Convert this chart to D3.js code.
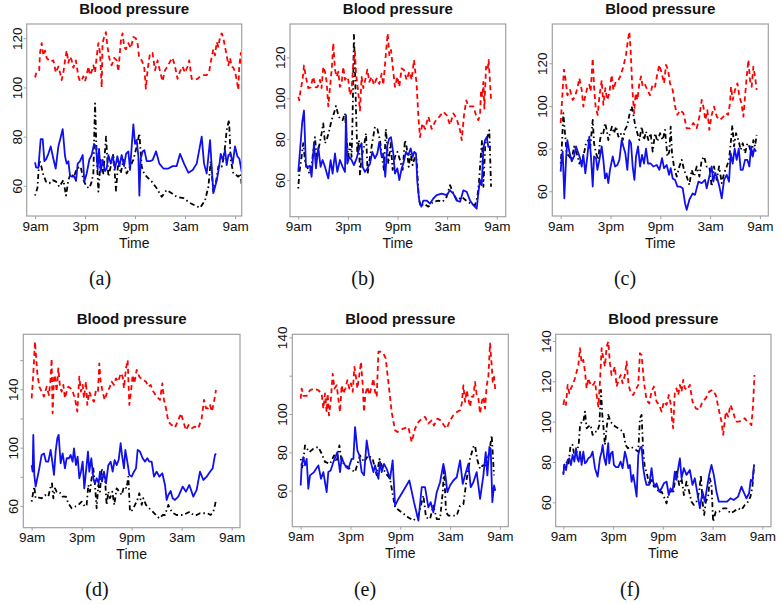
<!DOCTYPE html>
<html><head><meta charset="utf-8">
<script src="https://cdn.jsdelivr.net/npm/d3@7"></script>
<style>body{margin:0;background:#fff}svg{display:block}</style>
</head><body>
<svg id="chart" width="781" height="604"></svg>
<script>
// ---- labels ----
const titleText = "Blood pressure";
const xTitle = "Time";
const hourTicks = [0, 6, 12, 18, 24];
const hourLabels = ["9am", "3pm", "9pm", "3am", "9am"];
const panelTags = ["(a)", "(b)", "(c)", "(d)", "(e)", "(f)"];

// ---- data: [hours after 9am, value] ----
const aRed = [[0,104],[0.2,106.5],[0.5,107],[0.6,114],[0.8,118],[1.0,113],[1.2,115],[1.4,112],[1.8,110.5],[2.2,111],[2.5,106],[2.8,108.5],[3.0,106],[3.2,103],[3.4,106],[3.6,111],[3.8,115],[4.0,110],[4.2,112.5],[4.4,111],[4.6,108],[4.9,111],[5.2,104.5],[5.4,102.5],[5.6,103],[5.8,104.5],[6.0,102.5],[6.2,105],[6.4,108.5],[6.6,105],[6.8,106.5],[7.0,109],[7.2,106],[7.4,112.5],[7.6,118],[7.8,114],[8.0,100],[8.1,118],[8.3,120.5],[8.5,122.5],[8.7,116.5],[8.9,112],[9.2,109],[9.5,112],[9.8,111],[10.0,106.5],[10.3,119],[10.5,122],[10.7,116.5],[10.9,115.5],[11.2,118],[11.5,116],[11.8,120.5],[12.1,120],[12.3,118],[12.5,112],[12.8,111],[13.1,108.5],[13.3,99.5],[13.5,107],[13.8,114],[14.1,114],[14.4,107],[14.7,111],[15.0,106.5],[15.3,102.5],[15.6,107],[15.9,108.5],[16.2,110.5],[16.5,112],[16.8,108.5],[17.1,103.5],[17.4,106.5],[17.7,108.5],[18.0,106],[18.3,108.5],[18.5,111],[18.8,103.5],[19.1,103],[19.5,103.5],[19.8,104.5],[20.2,105],[20.6,105],[20.9,106.5],[21.2,112.5],[21.4,115.5],[21.6,113],[21.8,118.5],[22.0,116.5],[22.2,120.5],[22.4,122],[22.6,120],[22.8,116.5],[23.0,113],[23.2,109],[23.4,112],[23.6,108.5],[23.8,108],[24.0,106.5],[24.2,103],[24.4,99],[24.5,108.5],[24.7,114],[24.8,109]];
const aBlue = [[0,69.5],[0.12,67.5],[0.4,67.3],[0.68,79],[0.92,79],[1.12,70],[1.32,70.7],[1.6,73],[1.88,76],[2.2,71],[2.48,67],[2.8,76],[3.32,83],[3.6,72],[3.8,69],[4.0,70],[4.2,64],[4.48,63.7],[4.68,64],[4.92,62],[5.12,69],[5.4,70],[5.72,72.5],[5.92,61.7],[6.2,65],[6.52,70.7],[6.8,72.5],[7.08,77],[7.32,76],[7.52,66.7],[7.68,75],[7.88,65.7],[8.12,70.5],[8.4,66],[8.6,67],[8.8,72.5],[9.08,69],[9.32,72],[9.6,67],[9.88,72],[10.12,68],[10.4,72.5],[10.68,68],[10.92,73],[11.2,74],[11.4,66.4],[11.6,76],[11.8,85],[12.0,77],[12.2,78.6],[12.4,72],[12.52,56],[12.68,71],[12.92,74],[13.12,74.5],[13.4,70],[13.8,70],[14.12,70.5],[14.52,74],[14.92,69],[15.4,67],[16.0,67],[16.52,68],[17.0,68],[17.4,73],[17.88,69],[18.4,65.3],[18.92,66.4],[19.4,69],[20.0,80],[20.28,69],[20.6,65],[21.0,78.6],[21.4,57],[21.8,62],[22.12,68.4],[22.28,73],[22.52,70.5],[22.8,74.5],[23.0,68.4],[23.2,72.5],[23.48,73],[23.72,69],[24.0,76],[24.28,72],[24.52,71],[24.68,68],[24.8,65.7]];
const aBlack = [[0,56],[0.28,59],[0.52,70.5],[0.76,67.8],[1.0,64.4],[1.32,61.7],[1.72,61],[2.12,62.3],[2.52,61.7],[2.92,59.6],[3.4,62.3],[3.72,56],[4.0,62.3],[4.28,65],[4.68,63.7],[5.0,67],[5.48,67.8],[5.8,62.3],[6.2,59.6],[6.52,59],[6.8,61.7],[7.0,65],[7.2,93.5],[7.4,72],[7.6,57.6],[7.88,70.5],[8.2,65],[8.52,80],[8.8,63.7],[9.08,67.8],[9.4,73],[9.72,58],[10.0,70.5],[10.28,65],[10.6,70.5],[11.0,65],[11.4,67.8],[11.8,70.5],[12.2,76],[12.52,81.3],[12.8,67.8],[13.08,65],[13.4,63.7],[14.0,61.7],[14.6,59],[15.2,55.5],[15.8,58.3],[16.4,57],[17.0,55.5],[17.8,55],[18.6,53],[19.2,52],[19.8,51],[20.4,54],[20.8,59.6],[21.08,70],[21.4,57.6],[21.72,61.7],[22.0,67.8],[22.2,68.5],[22.4,67.8],[22.68,72],[23.0,82.7],[23.28,86.8],[23.48,70.5],[23.8,65],[24.12,64.4],[24.4,63.7],[24.68,65],[24.8,60.3]];

const bRed = [[0,100.7],[0.12,99],[0.28,104],[0.52,109],[0.69,116],[0.89,111],[1.21,105],[1.49,105.3],[1.81,110.5],[2.1,105.3],[2.34,105.6],[2.62,109],[2.82,105],[3.02,115.4],[3.23,113],[3.43,108],[3.63,96],[3.83,105],[4.07,115.4],[4.23,127],[4.44,114],[4.64,110.5],[4.84,113],[5.04,105.6],[5.24,107],[5.44,115.4],[5.65,109],[5.85,110.5],[6.05,109],[6.25,101.6],[6.45,104],[6.65,117],[6.85,122.8],[6.98,112],[7.14,107],[7.3,100.7],[7.46,94],[7.66,110.5],[7.86,105],[8.1,109],[8.35,114],[8.59,108],[8.87,110.5],[9.15,106.5],[9.48,109.7],[9.8,107],[10.08,112],[10.28,106.5],[10.6,122],[10.81,131.7],[11.01,121],[11.21,123.6],[11.41,116],[11.69,105.6],[11.98,110.5],[12.22,105.6],[12.5,114.6],[12.78,113.8],[13.1,109],[13.43,113],[13.71,109],[13.99,118.7],[14.31,107],[14.52,91],[14.72,81],[15.0,87.7],[15.32,85],[15.73,91],[16.13,85],[16.53,88.5],[17.06,91],[17.54,93.4],[17.94,91.8],[18.35,87],[18.75,92.6],[19.15,90],[19.56,84.4],[19.76,79.5],[20.04,91.8],[20.32,99],[20.56,96],[20.85,96],[21.17,96],[21.49,91.8],[21.77,89.3],[21.98,91.8],[22.1,104],[22.26,100.7],[22.38,108],[22.5,95],[22.7,115.4],[22.9,113.8],[23.02,118.7],[23.19,107],[23.31,99]];
const bBlue = [[0,64],[0.12,69.8],[0.28,78],[0.48,88.5],[0.69,94],[0.93,66.5],[1.21,66.5],[1.41,67],[1.61,61.6],[1.9,78],[2.14,65.7],[2.42,76],[2.7,66.5],[2.94,69.8],[3.23,66.5],[3.63,60.8],[3.91,69.8],[4.15,63.2],[4.44,73],[4.72,64],[5.04,69.8],[5.36,66.5],[5.65,64],[5.77,91.8],[5.93,68],[6.17,71.4],[6.45,69.8],[6.73,67.3],[7.06,70.6],[7.3,74.6],[7.46,76.3],[7.66,78],[7.78,66.5],[8.06,64],[8.35,65.7],[8.67,68],[8.95,73.8],[9.27,70.6],[9.56,73],[9.8,78.7],[10.08,71.4],[10.28,73],[10.52,61.6],[10.77,77],[11.01,80.4],[11.21,81],[11.49,73],[11.69,63.2],[11.98,65.7],[12.22,60],[12.5,65.7],[12.7,68],[13.02,73.8],[13.31,72.2],[13.59,75.5],[13.83,71.4],[14.03,73.8],[14.23,73],[14.4,59],[14.64,49.4],[14.88,47],[15.12,50],[15.52,50],[15.93,48.5],[16.33,51],[16.73,52.6],[17.34,53.4],[17.94,52.6],[18.35,55],[18.75,53.4],[19.15,50],[19.56,49.4],[19.96,55],[20.36,54.3],[20.77,50],[21.17,47.7],[21.57,46],[21.81,55],[21.98,60],[22.18,57.5],[22.38,75.5],[22.58,79.5],[22.78,81],[22.98,76.3],[23.31,76.3]];
const bBlack = [[0,55.9],[0.12,63.2],[0.4,71.4],[0.6,78],[0.85,68],[1.09,66.5],[1.33,63.2],[1.61,66.5],[1.81,74.6],[2.02,81],[2.22,71.4],[2.54,77],[2.82,82.8],[3.02,87.7],[3.23,78],[3.43,79.5],[3.75,84.4],[4.03,89.3],[4.31,92.6],[4.56,96.2],[4.84,91.8],[5.04,90],[5.36,89.3],[5.65,92.6],[5.85,79.5],[6.05,71.4],[6.25,78],[6.45,71.4],[6.57,91],[6.73,131],[6.85,115.4],[6.98,94],[7.14,73],[7.34,79.5],[7.46,62.4],[7.66,71.4],[7.94,76.3],[8.19,82.8],[8.39,63.2],[8.67,71.4],[8.99,79.5],[9.27,86],[9.56,85],[9.88,79.5],[10.12,71.4],[10.36,65],[10.6,85],[10.89,68],[11.17,78],[11.41,65],[11.69,71.4],[11.98,73.8],[12.3,69.8],[12.62,65],[12.9,79.5],[13.1,76.3],[13.35,66.5],[13.59,73],[13.83,67.3],[14.11,71.4],[14.31,69.8],[14.56,51.8],[14.8,47],[15.2,48.5],[15.73,47],[16.33,49.4],[16.94,50],[17.46,49.4],[17.94,51.8],[18.35,57.5],[18.75,53.4],[19.23,50],[19.76,51.8],[20.28,50],[20.85,48.5],[21.37,47.7],[21.65,51.8],[21.85,59],[22.06,71.4],[22.22,79.5],[22.38,56.7],[22.62,78],[22.86,81],[23.1,84.4],[23.31,56.7]];

const cRed = [[0,92],[0.12,99.7],[0.24,107.5],[0.4,117],[0.6,112],[0.8,105],[1.12,107.5],[1.45,102.8],[1.73,104.4],[2.01,108.3],[2.25,113],[2.53,107.5],[2.73,99.7],[2.97,105],[3.25,109],[3.45,110],[3.61,106.7],[3.86,122.3],[4.02,109],[4.22,99],[4.46,95.8],[4.66,104.4],[4.94,112],[5.14,100.5],[5.38,108.3],[5.62,102.8],[5.86,106],[6.14,114.5],[6.35,107.5],[6.63,111.4],[6.95,112],[7.23,114.5],[7.55,118.4],[7.87,124],[8.07,130],[8.27,134.8],[8.43,126],[8.63,108.3],[8.84,96.6],[9.04,106],[9.24,102.8],[9.48,110.6],[9.68,113.8],[9.88,109],[10.16,110],[10.44,107.5],[10.76,105],[11.08,110],[11.37,109],[11.65,115.3],[11.89,119.2],[12.17,115.3],[12.45,110.6],[12.69,119.2],[12.93,117],[13.17,110.6],[13.49,107.5],[13.78,99.7],[14.06,95.8],[14.38,98],[14.78,96.6],[15.18,89.5],[15.58,89.5],[15.98,92],[16.39,89.5],[16.71,95],[16.99,102.8],[17.19,99.7],[17.43,93.4],[17.67,98],[17.91,88.8],[18.19,95.8],[18.47,99.7],[18.8,95],[19.2,93.4],[19.6,95],[19.92,96.6],[20.16,95.8],[20.4,101.3],[20.52,109],[20.72,102.8],[21.0,107.5],[21.29,110.6],[21.53,104.4],[21.77,101.3],[22.01,95],[22.21,104.4],[22.41,113.8],[22.61,121.6],[22.81,112],[23.01,109],[23.21,118.4],[23.41,113.8],[23.61,107.5]];
const cBlue = [[0,69.2],[0.12,76.3],[0.24,78.6],[0.44,56.7],[0.64,74.7],[0.8,84],[1.04,78.6],[1.33,74],[1.61,76.3],[1.85,81],[2.13,77.8],[2.33,75.5],[2.53,71.6],[2.73,77],[2.97,68.4],[3.21,76.3],[3.45,85.6],[3.65,76.3],[3.86,62.2],[4.02,76.3],[4.26,75.5],[4.42,70],[4.66,74.7],[4.94,81],[5.14,74.7],[5.34,66],[5.54,68.4],[5.74,63.8],[5.94,70],[6.27,76.3],[6.55,71.6],[6.83,72.3],[7.07,74.7],[7.35,84],[7.55,81],[7.79,77.8],[8.03,70],[8.27,84],[8.47,82.5],[8.67,71.6],[8.88,65.3],[9.08,76.3],[9.32,81],[9.56,71.6],[9.8,77],[10.04,73],[10.28,80],[10.52,73],[10.84,73],[11.16,71.6],[11.57,72.3],[11.89,70],[12.21,75.5],[12.45,70.8],[12.77,72.3],[13.05,67.7],[13.25,70.8],[13.49,66],[13.78,65.3],[14.06,62.2],[14.38,62.2],[14.7,61.4],[14.98,54.4],[15.18,51.3],[15.5,56],[15.9,59],[16.18,58.3],[16.59,64.5],[16.99,63.8],[17.39,65.3],[17.59,61.4],[17.91,67],[18.19,71.6],[18.39,64.5],[18.59,68.4],[18.8,67],[19.12,62.2],[19.4,56.7],[19.68,65.3],[20.0,67.7],[20.28,64.5],[20.48,77.8],[20.72,73],[20.96,80],[21.2,74.7],[21.45,80],[21.69,70],[21.93,70],[22.21,74.7],[22.49,74.7],[22.73,71.6],[22.93,81],[23.13,76.3],[23.33,80],[23.53,78.6]];
const cBlack = [[0,73],[0.12,79.4],[0.32,96.6],[0.52,87.2],[0.72,77.8],[1.04,76.3],[1.33,74.7],[1.61,81],[1.93,77.8],[2.25,73],[2.53,74.7],[2.81,77.8],[3.05,82.5],[3.33,84],[3.53,79.4],[3.86,93.4],[4.02,82.5],[4.26,77.8],[4.54,74.7],[4.74,84],[4.94,88],[5.14,87.2],[5.34,92],[5.54,88.8],[5.74,84],[5.94,87.2],[6.18,90.3],[6.43,87.2],[6.67,90.3],[6.95,85.6],[7.23,87.2],[7.47,84],[7.75,88.8],[8.03,91],[8.27,95.8],[8.55,99.7],[8.76,95.8],[9.0,90.3],[9.24,87.2],[9.48,84],[9.76,90.3],[10.04,84],[10.28,88],[10.56,84],[10.84,87.2],[11.08,78.6],[11.37,87.2],[11.65,83.3],[11.97,87.2],[12.29,84],[12.57,88.8],[12.85,76.3],[13.09,78.6],[13.25,90.3],[13.41,77.8],[13.65,71.6],[13.98,66.9],[14.3,71.6],[14.58,74.7],[14.86,70],[15.18,66.9],[15.5,63],[15.78,70],[16.06,66.9],[16.39,71.6],[16.71,66.9],[16.99,74.7],[17.27,76.3],[17.59,71.6],[17.91,71.6],[18.19,62.2],[18.47,71.6],[18.8,65.3],[19.08,71.6],[19.4,63.8],[19.68,68.4],[20.0,71.6],[20.28,74.7],[20.48,82.5],[20.68,91],[20.88,81],[21.12,87.2],[21.41,84],[21.69,79.4],[21.93,82.5],[22.21,77.8],[22.49,82.5],[22.73,81],[23.01,76.3],[23.21,84],[23.41,81],[23.61,86.4]];

const dRed = [[0,133.8],[0.12,143],[0.28,159],[0.4,172.7],[0.52,163.5],[0.68,151],[0.92,141.8],[1.2,138.4],[1.48,135],[1.8,141.8],[2.08,136],[2.28,147.5],[2.4,161],[2.52,123.5],[2.68,147.5],[2.8,149.8],[3.0,138.4],[3.2,154.4],[3.4,141.8],[3.6,138.4],[3.8,143],[4.0,133.8],[4.2,138.4],[4.4,141.8],[4.68,140.7],[4.92,138.4],[5.2,133.8],[5.48,124.7],[5.72,148.7],[5.92,138.4],[6.12,143],[6.28,133.8],[6.52,145.3],[6.68,129.3],[6.92,138.4],[7.2,133.8],[7.48,131.5],[7.72,139.5],[7.96,138.4],[8.12,157.8],[8.28,145.3],[8.52,138.4],[8.76,132.7],[9.08,138.4],[9.32,140.7],[9.6,145.3],[9.88,143],[10.12,147.5],[10.4,145.3],[10.68,151],[10.92,148.7],[11.08,140.7],[11.32,154.4],[11.52,160],[11.72,129.3],[11.92,138.4],[12.12,149.8],[12.32,144],[12.6,153.3],[12.92,148.7],[13.32,146.4],[13.72,145.3],[14.0,141.8],[14.28,143],[14.6,138.4],[15.0,135],[15.4,132.7],[15.68,144],[15.88,132.7],[16.12,127],[16.4,117.8],[16.8,115.5],[17.2,113.7],[17.6,119],[17.92,123.5],[18.2,117.8],[18.52,112],[18.84,115.5],[19.2,113.3],[19.6,114.4],[20.0,113.3],[20.4,120],[20.68,132.7],[20.92,127],[21.16,127],[21.4,129.3],[21.64,124.7],[21.88,131.5],[22.12,139.5]];
const dBlue = [[0,88],[0.12,83.5],[0.2,108.7],[0.32,81.3],[0.48,73.3],[0.68,79],[0.92,85.8],[1.2,95],[1.48,96],[1.72,90.4],[2.0,90.4],[2.28,98.4],[2.48,90.4],[2.68,81.3],[2.88,97.3],[3.08,106.4],[3.24,108.7],[3.48,89.3],[3.72,96],[4.0,85.8],[4.2,92.7],[4.48,92.7],[4.68,95],[4.92,90.4],[5.08,99.5],[5.32,88],[5.52,93.8],[5.72,79],[5.92,83.5],[6.12,90.4],[6.32,72.1],[6.52,83.5],[6.76,97.3],[6.92,83.5],[7.16,92.7],[7.4,79],[7.6,75.5],[7.8,79],[8.04,75.5],[8.2,83.5],[8.44,76.7],[8.68,83.5],[8.92,75.5],[9.2,88],[9.48,90.4],[9.72,83.5],[9.96,91.5],[10.2,88],[10.44,91.5],[10.68,103],[10.84,95],[11.08,85.8],[11.24,98.4],[11.48,90.4],[11.72,81.3],[12.0,80.1],[12.28,83.5],[12.52,85.8],[12.72,98.4],[13.0,97.3],[13.32,92.7],[13.6,90.4],[13.88,92.7],[14.12,90.4],[14.4,90.4],[14.68,80.1],[15.0,83.5],[15.32,80.1],[15.68,82.4],[16.0,74.4],[16.2,64.1],[16.4,67.5],[16.68,70.3],[16.92,65.3],[17.2,64.1],[17.6,66.4],[18.12,73.3],[18.52,69.8],[18.92,74.4],[19.4,66.4],[19.8,71],[20.2,83.5],[20.6,77.8],[21.0,80.1],[21.4,83.5],[21.72,85.8],[22.0,95],[22.12,96]];
const dBlack = [[0,63],[0.2,69.8],[0.32,73.3],[0.48,65.3],[0.8,65.7],[1.2,65.3],[1.6,67.5],[2.0,66.4],[2.28,73.3],[2.44,75.5],[2.6,65.3],[2.8,72.1],[3.0,69.8],[3.32,69.8],[3.72,66.4],[4.12,66.4],[4.4,61.8],[4.8,58.4],[5.2,59.5],[5.6,60.7],[6.0,63],[6.4,59.5],[6.6,60.7],[6.8,74.4],[7.0,69.8],[7.2,79],[7.4,85.8],[7.6,74.4],[7.8,58.4],[8.0,74.4],[8.2,69.8],[8.4,85.8],[8.6,81.3],[8.8,79],[9.0,60.7],[9.2,69.8],[9.4,65.3],[9.68,69.8],[9.92,60.7],[10.2,72.1],[10.52,69.8],[10.8,67.5],[11.08,73.3],[11.4,72.1],[11.6,80.1],[11.8,56.1],[12.12,57.3],[12.4,60.7],[12.68,64.1],[12.92,68.7],[13.2,60.7],[13.4,65.3],[13.72,60.7],[14.12,58.4],[14.52,56.1],[14.92,53.8],[15.32,51.5],[15.72,53.8],[16.0,53.8],[16.4,60.7],[16.68,57.3],[17.0,55],[17.4,53.8],[17.8,53.8],[18.2,53.8],[18.6,55],[19.0,56.1],[19.4,53.8],[19.8,53.8],[20.2,55],[20.68,55],[21.08,55],[21.48,53.8],[21.8,56.1],[22.0,60.7],[22.12,64.1]];

const eRed = [[0,108],[0.12,113.3],[0.32,109.5],[0.72,109.5],[1.12,112.4],[1.61,113.3],[2.13,112.4],[2.53,110.7],[2.73,102.8],[2.93,110.7],[3.13,101],[3.25,110.7],[3.41,99.3],[3.61,106.3],[3.86,121],[4.06,113.3],[4.34,115],[4.58,106.3],[4.74,101],[4.94,115],[5.14,110.7],[5.38,113.3],[5.62,117.7],[5.86,113.3],[6.06,116],[6.27,111.6],[6.47,124.6],[6.63,120.3],[6.83,113.3],[7.03,119.4],[7.27,127.3],[7.47,115],[7.63,101],[7.79,110],[8.03,114.2],[8.27,110],[8.55,114.2],[8.76,118.5],[8.96,111.6],[9.16,109],[9.36,132.5],[9.64,132.5],[9.96,131.6],[10.24,129],[10.56,116.8],[10.96,101],[11.37,91.5],[11.65,90.6],[11.97,91.5],[12.37,92.4],[12.97,93.2],[13.37,85.4],[13.78,92.4],[14.18,95.8],[14.58,97.6],[14.98,98.5],[15.38,95],[15.78,96.7],[16.06,94],[16.47,97.6],[16.87,96.7],[17.27,94],[17.59,92.4],[17.99,96.7],[18.39,99.3],[18.8,101],[19.2,102],[19.4,105.4],[19.6,115],[19.8,106.3],[20.0,112.4],[20.2,108],[20.4,103.7],[20.6,109],[20.8,109],[21.0,116.8],[21.2,110],[21.41,108],[21.61,100.2],[21.81,106.3],[22.01,109],[22.21,102.8],[22.41,115],[22.61,119.4],[22.81,136.9],[23.01,125.5],[23.13,116.8],[23.29,119.4],[23.45,112.4]];
const eBlue = [[0,62.7],[0.12,73.2],[0.32,77.5],[0.52,73.2],[0.72,76.6],[0.92,61],[1.12,68],[1.61,69.7],[2.13,73.2],[2.45,66.2],[2.73,69.7],[2.93,64.4],[3.13,59.2],[3.33,69.7],[3.61,70.5],[3.94,75],[4.42,80.1],[4.74,69.7],[4.94,77.5],[5.14,75],[5.46,72.3],[5.74,71.4],[6.14,76.6],[6.35,76.6],[6.55,93.2],[6.83,81],[7.07,78.4],[7.35,69.7],[7.63,68],[7.95,86.2],[8.23,78.4],[8.55,73.2],[8.76,69.7],[8.96,73.2],[9.16,69.7],[9.36,66.2],[9.56,75],[9.76,69.7],[10.04,74],[10.36,71.4],[10.76,66.2],[11.08,75.8],[11.37,52.2],[11.77,55.7],[12.37,60],[13.09,65.3],[13.65,54],[14.18,44.4],[14.58,61.8],[14.98,61.8],[15.38,51.3],[15.66,54],[15.98,48.7],[16.39,59.2],[16.79,64.4],[17.19,74],[17.39,69.7],[17.67,59.2],[17.99,62.7],[18.39,65.3],[18.8,67],[19.2,75.8],[19.52,63.5],[19.8,68],[20.2,74],[20.48,61.8],[20.8,64.4],[21.2,69.7],[21.61,55.7],[22.01,68],[22.29,80.1],[22.49,68],[22.73,82.8],[22.89,81.9],[23.09,54],[23.29,62.7],[23.45,60]];
const eBlack = [[0,76.6],[0.2,71.4],[0.52,83.6],[1.04,80.1],[1.53,81.9],[2.13,82.8],[2.53,79.3],[2.93,75],[3.53,74],[4.02,78.4],[4.34,75],[4.66,83.6],[4.94,75],[5.46,73.2],[5.94,71.4],[6.55,69.7],[7.15,78.4],[7.63,75],[8.15,78.4],[8.67,76.6],[9.16,68],[9.48,76.6],[9.76,73.2],[10.16,69.7],[10.76,66.2],[11.37,51.3],[12.17,48.7],[12.97,46],[13.57,44.4],[14.18,47],[14.78,57.5],[15.1,46],[15.58,45.2],[15.98,52.2],[16.39,45.2],[16.79,45.2],[17.11,59.2],[17.27,71.4],[17.51,48.7],[17.79,47],[18.19,47],[18.8,47],[19.2,52.2],[19.6,53],[20.0,66.2],[20.4,76.6],[20.8,82.8],[21.0,83.6],[21.29,75.8],[21.61,71.4],[21.93,73.2],[22.33,73.2],[22.73,80.1],[23.01,88.9],[23.29,68]];

const fRed = [[0,108.3],[0.12,110.7],[0.32,108.3],[0.52,118.2],[0.72,114],[0.92,116.5],[1.12,118.2],[1.41,121.5],[1.61,124.8],[1.81,128],[2.01,136.4],[2.21,129],[2.41,130.6],[2.61,124.8],[2.81,116.5],[3.01,121.5],[3.21,119],[3.41,119.8],[3.61,118.2],[3.82,119.8],[4.02,113.2],[4.22,107.4],[4.42,119.8],[4.62,136.4],[4.82,131.4],[5.02,127.3],[5.22,137.2],[5.42,139.7],[5.62,129],[5.82,123.1],[6.02,124.8],[6.22,127.3],[6.43,117.4],[6.67,120.7],[6.91,123.1],[7.15,119],[7.43,123.1],[7.63,129.8],[7.87,118.2],[8.15,114],[8.43,113.2],[8.71,115.7],[9.04,118.2],[9.24,133.9],[9.44,133],[9.72,119.8],[10.04,110.7],[10.36,109],[10.64,114.9],[10.92,117.4],[11.24,109.9],[11.57,108.3],[11.85,105],[12.13,109.9],[12.45,108.3],[12.73,113.2],[12.97,108.3],[13.13,100],[13.25,96.7],[13.45,114.9],[13.65,116.5],[13.86,113.2],[14.06,118.2],[14.26,114.9],[14.46,120.7],[14.66,116.5],[14.94,115.7],[15.26,118.2],[15.58,109.9],[15.98,106.6],[16.39,105.8],[16.79,109.9],[17.19,111.6],[17.59,114.9],[17.99,115.7],[18.39,113.2],[18.8,105],[19.08,100],[19.28,93.4],[19.6,105],[19.88,102.5],[20.16,108.3],[20.48,105],[20.8,100],[21.2,100],[21.61,100.8],[21.89,101.7],[22.17,100],[22.49,99.2],[22.69,98.3],[22.89,108.3],[23.05,123.1]];
const fBlue = [[0,73.6],[0.12,78.5],[0.32,76],[0.52,81],[0.72,81.8],[0.92,78.5],[1.12,83.5],[1.33,80.2],[1.53,86.8],[1.69,81.8],[1.85,80.2],[2.01,85.1],[2.21,78.5],[2.41,85.1],[2.61,79.3],[2.81,80.2],[3.01,81.8],[3.29,82.6],[3.53,85.1],[3.82,76.9],[4.14,72.7],[4.42,81.8],[4.62,85.1],[4.74,88.4],[4.94,81.8],[5.14,78.5],[5.3,85.1],[5.42,89.3],[5.54,79.3],[5.74,84.3],[5.94,85.1],[6.1,78.5],[6.35,77.4],[6.63,77.4],[6.91,80.2],[7.15,76.9],[7.43,85.1],[7.63,81.8],[7.83,76.9],[8.03,78.5],[8.23,70.2],[8.43,73.6],[8.63,68.6],[8.84,62.8],[9.04,83.5],[9.24,86.8],[9.44,87.6],[9.64,76.9],[9.84,71.9],[10.04,68.6],[10.36,68.6],[10.64,76.9],[10.84,70.2],[11.04,67.8],[11.24,69.4],[11.57,65.3],[11.85,66.9],[12.13,69.4],[12.45,70.2],[12.73,63.6],[12.93,66.9],[13.17,65.3],[13.45,75.2],[13.65,71.1],[13.86,76.9],[14.06,81.8],[14.26,71.9],[14.54,76.9],[14.86,73.6],[15.26,76],[15.58,68.6],[15.86,71.9],[16.14,65.3],[16.47,57],[16.79,65.3],[17.07,60.3],[17.35,67.8],[17.59,73.6],[17.87,78.5],[18.15,73.6],[18.47,65.3],[18.76,60.3],[19.28,60.3],[19.76,60.3],[20.16,62],[20.56,61.1],[21.08,62.8],[21.49,67.8],[21.81,64.5],[22.09,62],[22.41,64.5],[22.61,71.1],[22.81,70.2],[23.01,78.8]];
const fBlack = [[0,74.4],[0.12,78.5],[0.32,80.2],[0.6,78.5],[0.88,88.4],[1.12,88.4],[1.37,81.8],[1.61,85.1],[1.85,88.4],[2.01,97.5],[2.21,100],[2.41,100],[2.61,105],[2.81,96.7],[3.01,97.5],[3.29,98.3],[3.53,93.4],[3.82,95],[4.1,95],[4.34,98.3],[4.54,115.7],[4.7,103.3],[4.82,98.3],[5.02,88.4],[5.22,96.7],[5.42,103.3],[5.7,100],[6.02,98.3],[6.31,97.5],[6.63,96.7],[6.91,95.9],[7.23,95],[7.51,88.4],[7.79,86.8],[8.11,87.6],[8.43,86.8],[8.76,86],[9.04,85.1],[9.24,101.7],[9.44,103.3],[9.64,85.1],[9.84,76.9],[10.04,75.2],[10.36,68.6],[10.64,71.9],[10.92,67.8],[11.24,67.8],[11.57,64.5],[11.85,65.3],[12.13,62.8],[12.45,59.5],[12.73,65.3],[13.05,65.3],[13.25,64.5],[13.45,70.2],[13.65,75.2],[13.98,68.6],[14.26,71.9],[14.54,63.6],[14.86,70.2],[15.18,65.3],[15.46,60.3],[15.74,58.7],[16.06,60.3],[16.39,65.3],[16.59,73.6],[16.79,60.3],[16.99,53.7],[17.19,60.3],[17.47,62.8],[17.67,71.9],[17.87,68.6],[18.07,50.4],[18.39,55.4],[18.8,55.4],[19.28,57],[19.68,57],[20.16,54.5],[20.56,55.4],[21.08,57],[21.49,56.2],[21.89,58.7],[22.29,60.3],[22.57,62.8],[22.81,67.8],[23.01,78.5]];

// y-axis ticks and which of them carry labels
const yTicksA = [60, 80, 100, 120], yLabA = [60, 80, 100, 120];
const yTicksD = [60, 80, 100, 120, 140, 160], yLabD = [60, 100, 140];
const yTicksE = [60, 80, 100, 120, 140], yLabE = [60, 80, 100, 140];
const yTicksF = [60, 80, 100, 120, 140], yLabF = [60, 80, 100, 120, 140];

const panelData = [
  {red: aRed, blue: aBlue, black: aBlack, yTicks: yTicksA, yLab: yLabA},
  {red: bRed, blue: bBlue, black: bBlack, yTicks: yTicksA, yLab: yLabA},
  {red: cRed, blue: cBlue, black: cBlack, yTicks: yTicksA, yLab: yLabA},
  {red: dRed, blue: dBlue, black: dBlack, yTicks: yTicksD, yLab: yLabD},
  {red: eRed, blue: eBlue, black: eBlack, yTicks: yTicksE, yLab: yLabE},
  {red: fRed, blue: fBlue, black: fBlack, yTicks: yTicksF, yLab: yLabF}
];

// ---- layout (pixels) and axis ranges ----
const layout = [
  {box: [26.7, 24, 241.7, 216],   xDom: [-1.0, 24.8],  yDom: [47.7, 125.8], tag: [100, 285]},
  {box: [290, 24, 505.7, 216.7],  xDom: [-1.0, 25.08], yDom: [42.1, 136.3], tag: [363, 285]},
  {box: [552.3, 24, 768.3, 216],  xDom: [-1.01, 25.01], yDom: [48.4, 138.4], tag: [625, 285]},
  {box: [23.3, 334.3, 240, 527.7], xDom: [-1.0, 25.0], yDom: [45.1, 177.7], tag: [97, 596]},
  {box: [292.3, 334.3, 508.3, 526.7], xDom: [-1.01, 25.01], yDom: [41.2, 141.6], tag: [365, 596]},
  {box: [555.7, 334.3, 771, 526.7], xDom: [-0.92, 25.05], yDom: [47.9, 143.3], tag: [630, 596]}
];

const styles = {
  red:   {color: "#ff0000", dash: "5,3.5"},
  blue:  {color: "#1010ee", dash: null},
  black: {color: "#000000", dash: "1.5,3,5,3"}
};

const sans = "'Liberation Sans', Arial, Helvetica, sans-serif";
const svg = d3.select("#chart");
svg.append("rect").attr("width", 781).attr("height", 604).attr("fill", "#fff");

panelData.forEach((pd, i) => {
  const L = layout[i];
  const [x0, y0, x1, y1] = L.box;
  const x = d3.scaleLinear().domain(L.xDom).range([x0, x1]);
  const y = d3.scaleLinear().domain(L.yDom).range([y1, y0]);
  const g = svg.append("g");

  const clipId = "clip" + i;
  g.append("clipPath").attr("id", clipId)
    .append("rect").attr("x", x0).attr("y", y0).attr("width", x1 - x0).attr("height", y1 - y0);

  const line = d3.line().x(d => x(d[0])).y(d => y(d[1]));
  const lines = g.append("g").attr("clip-path", `url(#${clipId})`);
  ["black", "blue", "red"].forEach(k => {
    const s = styles[k];
    lines.append("path").datum(pd[k])
      .attr("d", line)
      .attr("fill", "none")
      .attr("stroke", s.color)
      .attr("stroke-width", 1.8)
      .attr("stroke-linejoin", "round")
      .attr("stroke-dasharray", s.dash);
  });

  // frame
  g.append("rect").attr("x", x0).attr("y", y0).attr("width", x1 - x0).attr("height", y1 - y0)
    .attr("fill", "none").attr("stroke", "#a0a0a0").attr("stroke-width", 1.2);

  // x axis
  const xa = g.append("g").attr("transform", `translate(0,${y1})`)
    .call(d3.axisBottom(x).tickValues(hourTicks)
      .tickFormat(d => hourLabels[hourTicks.indexOf(d)]).tickSize(3).tickPadding(2));
  xa.select(".domain").remove();
  xa.selectAll(".tick line").attr("stroke", "#a0a0a0");
  xa.selectAll("text").attr("font-family", sans).attr("font-size", 13.5).attr("fill", "#111");

  // y axis
  const ya = g.append("g").attr("transform", `translate(${x0},0)`)
    .call(d3.axisLeft(y).tickValues(pd.yTicks)
      .tickFormat(d => pd.yLab.includes(d) ? d : "").tickSize(3));
  ya.select(".domain").remove();
  ya.selectAll(".tick line").attr("stroke", "#a0a0a0");
  ya.selectAll("text")
    .attr("transform", "rotate(-90)")
    .attr("x", 0).attr("y", -5).attr("dy", 0)
    .attr("text-anchor", "middle")
    .attr("font-family", sans).attr("font-size", 13.5).attr("fill", "#111");

  const cx = (x0 + x1) / 2;
  g.append("text").attr("x", cx).attr("y", y0 - 10)
    .attr("text-anchor", "middle").attr("font-family", sans)
    .attr("font-weight", "bold").attr("font-size", 15).attr("fill", "#111")
    .text(titleText);
  g.append("text").attr("x", cx).attr("y", y1 + 31.5)
    .attr("text-anchor", "middle").attr("font-family", sans)
    .attr("font-size", 14).attr("fill", "#111").text(xTitle);
  g.append("text").attr("x", L.tag[0]).attr("y", L.tag[1])
    .attr("text-anchor", "middle")
    .attr("font-family", "'Liberation Serif', 'DejaVu Serif', serif")
    .attr("font-size", 20).attr("fill", "#111").text(panelTags[i]);
});
</script>
</body></html>
